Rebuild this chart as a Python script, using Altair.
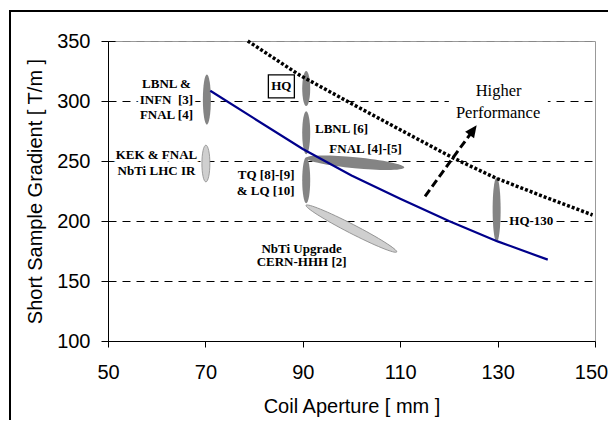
import math
import altair as alt
import pandas as pd

# ---------------- data ----------------
x_ticks = [50, 70, 90, 110, 130, 150]
y_ticks = [100, 150, 200, 250, 300, 350]
X_DOM = [50, 150]
Y_DOM = [100, 350]

# solid blue line (short sample gradient vs aperture)
blue_x = [71, 80, 90, 100, 110, 120, 130, 140.3]
blue_y = [308.5, 285.5, 260, 238, 218.5, 200, 183, 167.8]

# dotted black line
dot_x = [78.7, 89.4, 99.7, 110, 120.9, 129.8, 140, 149.5]
dot_y = [350, 321.4, 298.5, 276, 252.5, 235.5, 219.5, 205]

# vertical (solid grey) ellipses: aperture, gradient low, gradient high
ell_x = [70.3, 90.7, 90.7, 90.7, 129.8]
ell_lo = [280.3, 295.8, 255.6, 214.8, 182.5]
ell_hi = [322.0, 325.0, 291.4, 253.1, 236.2]

# hatched vertical ellipse (KEK & FNAL NbTi LHC IR)
kek_x = [70.1]
kek_lo = [232.6]
kek_hi = [263.2]

# tilted ellipses: start / end point
fnal_x = [90.66, 110.84]
fnal_y = [252.5, 244.5]
upg_x = [90.66, 109.28]
upg_y = [213.1, 174.2]

# arrow "Higher Performance"
arrow_x = [115.1, 125.7]
arrow_y = [220.6, 279.8]

# labels
lab_c_text = ["LBNL &", "INFN\u00a0 [3]", "FNAL [4]", "KEK & FNAL", "NbTi LHC IR",
              "HQ", "NbTi Upgrade", "CERN-HHH [2]"]
lab_c_x = [62, 62, 62, 59.95, 59.95, 85.6, 89.75, 89.75]
lab_c_y = [314.5, 301.2, 288.1, 254.75, 241.7, 312.25, 177.0, 165.8]

lab_l_text = ["LBNL [6]", "FNAL [4]-[5]", "HQ-130"]
lab_l_x = [92.5, 95.45, 132.4]
lab_l_y = [276.7, 259.75, 200.0]

lab_r_text = ["TQ [8]-[9]", "& LQ [10]"]
lab_r_x = [88.3, 88.3]
lab_r_y = [238.1, 225.0]

perf_text = ["Higher", "Performance"]
perf_x = [130.2, 130.1]
perf_y = [308.3, 290.3]

# ---------------- layout ----------------
W, H = 487, 300
PX = W / (X_DOM[1] - X_DOM[0])
PY = H / (Y_DOM[1] - Y_DOM[0])
ELL_W = 8.0

xs = alt.Scale(domain=X_DOM, nice=False, zero=False)
ys = alt.Scale(domain=Y_DOM, nice=False, zero=False)


def fmt(v):
    return f"{v:.4f}".rstrip("0").rstrip(".")


def ellipse_path(a, b):
    k = 0.5523
    pts = [
        ("M", [0, -b]),
        ("C", [k * a, -b, a, -k * b, a, 0]),
        ("C", [a, k * b, k * a, b, 0, b]),
        ("C", [-k * a, b, -a, k * b, -a, 0]),
        ("C", [-a, -k * b, -k * a, -b, 0, -b]),
    ]
    return "".join(c + ",".join(fmt(v) for v in vals) for c, vals in pts) + "Z"


def vertical_rows(xv, lo, hi, wpx):
    rows = []
    for x, l, h in zip(xv, lo, hi):
        hp = (h - l) * PY
        rows.append(dict(x=x, y=(l + h) / 2, shape=ellipse_path(wpx / hp, 1), size=hp * hp, ang=0))
    return rows


def tilted_row(xv, yv, tpx):
    dxp = (xv[1] - xv[0]) * PX
    dyp = -(yv[1] - yv[0]) * PY
    L = math.hypot(dxp, dyp)
    ang = math.degrees(math.atan2(dyp, dxp))
    return dict(x=(xv[0] + xv[1]) / 2, y=(yv[0] + yv[1]) / 2,
                shape=ellipse_path(1, tpx / L), size=L * L, ang=ang % 360)


solid_df = pd.DataFrame(vertical_rows(ell_x, ell_lo, ell_hi, ELL_W) + [tilted_row(fnal_x, fnal_y, 11)])
hatch_df = pd.DataFrame(vertical_rows(kek_x, kek_lo, kek_hi, ELL_W) + [tilted_row(upg_x, upg_y, 9)])

blue_df = pd.DataFrame({"x": blue_x, "y": blue_y})
dot_df = pd.DataFrame({"x": dot_x, "y": dot_y})

# arrow: shaft ends a little before the tip
adxp = (arrow_x[1] - arrow_x[0]) * PX
adyp = (arrow_y[1] - arrow_y[0]) * PY
alen = math.hypot(adxp, adyp)
back = 7.0
shaft_df = pd.DataFrame({
    "x": [arrow_x[0]], "y": [arrow_y[0]],
    "x2": [arrow_x[1] - back * adxp / alen / PX],
    "y2": [arrow_y[1] - back * adyp / alen / PY],
})
head_ang = math.degrees(math.atan2(adxp, adyp)) % 360
head_df = pd.DataFrame({"x": [arrow_x[1]], "y": [arrow_y[1]], "ang": [head_ang]})

lab_c = pd.DataFrame({"t": lab_c_text, "x": lab_c_x, "y": lab_c_y})
lab_l = pd.DataFrame({"t": lab_l_text, "x": lab_l_x, "y": lab_l_y})
lab_r = pd.DataFrame({"t": lab_r_text, "x": lab_r_x, "y": lab_r_y})
perf_df = pd.DataFrame({"t": perf_text, "x": perf_x, "y": perf_y})
hq_df = lab_c[lab_c["t"] == "HQ"]
halo_c = lab_c[lab_c["t"] != "HQ"]
perf_box_df = pd.DataFrame({"x": [sum(perf_x) / 2], "y": [sum(perf_y) / 2]})

FONT_SANS = "Liberation Sans"
FONT_SERIF = "Liberation Serif"

x_axis = alt.Axis(values=x_ticks, title="Coil Aperture [ mm ]", grid=False, tickSize=6,
                  labelPadding=15, titlePadding=14, domainColor="black", tickColor="black",
                  labelFont=FONT_SANS, titleFont=FONT_SANS, labelFontSize=20, titleFontSize=20,
                  titleFontWeight="normal", labelColor="black", titleColor="black",
                  labelFlush=False, labelOverlap=False,
                  labelOffset={"condition": {"test": "datum.value >= 150", "value": -4},
                               "value": 0})
y_axis = alt.Axis(values=y_ticks, title="Short Sample Gradient [ T/m ]", grid=True,
                  gridDash=[8, 6], gridWidth=1,
                  gridColor={"condition": {"test": "datum.value >= 350", "value": "#888888"},
                             "value": "black"},
                  tickSize=7, labelPadding=11, titlePadding=11, domainColor="black",
                  tickColor="black", labelFont=FONT_SANS, titleFont=FONT_SANS,
                  labelFontSize=20, titleFontSize=20, titleFontWeight="normal",
                  labelColor="black", titleColor="black", labelFlush=False, labelOverlap=False)
y_inner = alt.Axis(values=y_ticks, orient="left", offset=-7, tickSize=7, labels=False,
                   domain=False, grid=False, title=None, tickColor="black")


def X():
    return alt.X("x:Q", scale=xs, axis=x_axis)


def Y(axis=None):
    return alt.Y("y:Q", scale=ys, axis=axis)


# frame lines (outer border of the figure)
frame_v = alt.Chart(pd.DataFrame({"k": [0]})).mark_rule(color="black", strokeWidth=2).encode(
    x=alt.value(-98), y=alt.value(-30), y2=alt.value(390))
frame_h = alt.Chart(pd.DataFrame({"k": [0]})).mark_rule(color="black", strokeWidth=2).encode(
    x=alt.value(-99), x2=alt.value(510), y=alt.value(-30))

blue = alt.Chart(blue_df).mark_line(color="#00008B", strokeWidth=2.2).encode(
    x=X(), y=Y(y_axis))

dotted = alt.Chart(dot_df).mark_line(color="black", strokeWidth=3.5, strokeDash=[3, 2],
                                     strokeCap="butt").encode(x=X(), y=Y(y_inner))


def halo(df, align, size, weight, font):
    return alt.Chart(df).mark_text(align=align, baseline="middle", font=font, fontSize=size,
                                   fontWeight=weight, color="white", stroke="white",
                                   strokeWidth=6, strokeJoin="round").encode(
        x=X(), y=Y(), text="t:N")


def txt(df, align, size, weight, font):
    return alt.Chart(df).mark_text(align=align, baseline="middle", font=font, fontSize=size,
                                   fontWeight=weight, color="black").encode(
        x=X(), y=Y(), text="t:N")


perf_box = alt.Chart(perf_box_df).mark_point(shape="M-1,-0.44L1,-0.44L1,0.44L-1,0.44Z",
                                             size=99 * 99, filled=True, color="white",
                                             opacity=1, strokeWidth=0).encode(x=X(), y=Y())

hq_box = alt.Chart(hq_df).mark_point(shape="M-1,-0.885L1,-0.885L1,0.885L-1,0.885Z",
                                     size=26 * 26, filled=False, fill="white",
                                     stroke="black", strokeWidth=1.3, opacity=1).encode(
    x=X(), y=Y())

solid_ell = alt.Chart(solid_df).mark_point(filled=True, color="#848484", opacity=1,
                                           strokeWidth=0).encode(
    x=X(), y=Y(), shape=alt.Shape("shape:N", scale=None), size=alt.Size("size:Q", scale=None),
    angle=alt.Angle("ang:Q", scale=None))

hatch_ell = alt.Chart(hatch_df).mark_point(filled=False, fill="#cfcfcf", stroke="#8a8a8a",
                                           strokeWidth=0.8, opacity=1).encode(
    x=X(), y=Y(), shape=alt.Shape("shape:N", scale=None), size=alt.Size("size:Q", scale=None),
    angle=alt.Angle("ang:Q", scale=None))

shaft = alt.Chart(shaft_df).mark_rule(color="black", strokeWidth=3, strokeDash=[8, 4]).encode(
    x=X(), y=Y(), x2="x2:Q", y2="y2:Q")

head = alt.Chart(head_df).mark_point(shape="M0,0L0.55,1.2L-0.55,1.2Z", size=20 * 20,
                                     filled=True, color="black", opacity=1).encode(
    x=X(), y=Y(), angle=alt.Angle("ang:Q", scale=None))

chart = alt.layer(
    frame_v, frame_h,
    perf_box,
    halo(halo_c, "center", 13, "bold", FONT_SERIF),
    halo(lab_l, "left", 13, "bold", FONT_SERIF),
    halo(lab_r, "right", 13, "bold", FONT_SERIF),
    hq_box,
    hatch_ell, solid_ell,
    blue, dotted,
    shaft, head,
    txt(lab_c, "center", 13, "bold", FONT_SERIF),
    txt(lab_l, "left", 13, "bold", FONT_SERIF),
    txt(lab_r, "right", 13, "bold", FONT_SERIF),
    txt(perf_df, "center", 16.5, "normal", FONT_SERIF),
).resolve_axis(y="independent").properties(
    width=W, height=H,
    padding={"left": 100, "top": 33, "right": 13, "bottom": 79},
    autosize=alt.AutoSizeParams(type="none"),
).configure_view(stroke="#999999", strokeWidth=1)

chart.save("out.html", embed_options={"renderer": "svg", "actions": False})
